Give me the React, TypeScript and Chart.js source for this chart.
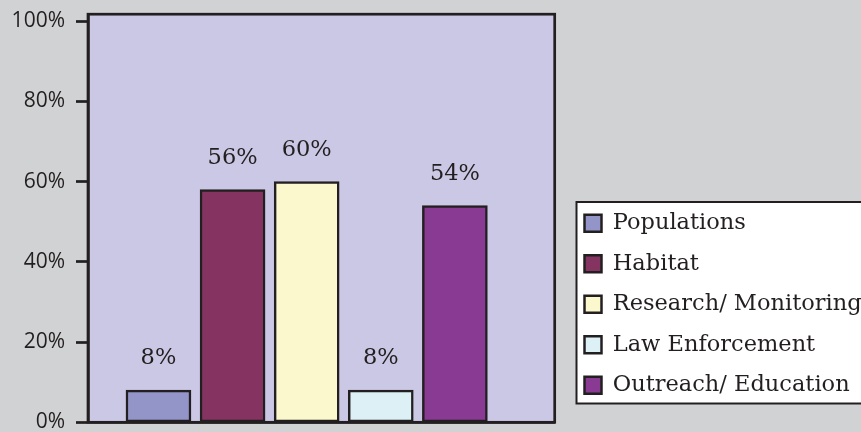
import React, { useEffect, useRef } from 'react';
import { Chart, registerables } from 'chart.js';

Chart.register(...registerables);

const CATEGORIES = ['Populations', 'Habitat', 'Research/ Monitoring', 'Law Enforcement', 'Outreach/ Education'];
const VALUES = [8, 58, 60, 8, 54];
const VALUE_LABELS = ['8%', '56%', '60%', '8%', '54%'];
const BAR_COLORS = ['#9395c8', '#853461', '#fbf8cd', '#dcf0f6', '#893a93'];
const Y_TICKS = [0, 20, 40, 60, 80, 100];

const INK = '#231f20';
const PAGE_BG = '#d1d2d4';
const PLOT_BG = '#cbc8e5';
const SERIF = '"DejaVu Serif", serif';
const SANS = '"Open Sans", sans-serif';

const CANVAS_W = 861;
const CANVAS_H = 440;
const LEGEND_PAD = 18;
const LEGEND_DX = 11.8;
const LEGEND_DY = 179.8;

export default function App() {
  const ref = useRef<HTMLCanvasElement>(null);

  useEffect(() => {
    const canvas = ref.current;
    if (!canvas) return;

    const backgroundPlugin = {
      id: 'bgPlugin',
      beforeDraw(chart: any) {
        const { ctx, chartArea: a } = chart;
        ctx.save();
        ctx.fillStyle = PAGE_BG;
        ctx.fillRect(0, 0, chart.width, chart.height);
        ctx.fillStyle = PLOT_BG;
        ctx.fillRect(a.left, a.top, a.right - a.left, a.bottom - a.top);
        const hb = chart.legend && chart.legend.legendHitBoxes;
        if (hb && hb.length) {
          const first = hb[0];
          const last = hb[hb.length - 1];
          const x = first.left - 8;
          const y = first.top - 10;
          const b = last.top + last.height + 7;
          const w = chart.width + 20 - x;
          ctx.fillStyle = '#ffffff';
          ctx.fillRect(x, y, w, b - y);
          ctx.lineWidth = 2;
          ctx.strokeStyle = INK;
          ctx.strokeRect(x, y, w, b - y);
        }
        ctx.restore();
      },
    };

    const legendPlacePlugin = {
      id: 'legendPlace',
      afterLayout(chart: any) {
        const lg = chart.legend;
        if (!lg) return;
        const a = chart.chartArea;
        const h = lg.height;
        lg.left = a.right + LEGEND_DX;
        lg.right = chart.width + 200;
        lg.width = lg.right - lg.left;
        lg.top = a.top + LEGEND_DY;
        lg.bottom = lg.top + h;
      },
    };

    const valueLabelPlugin = {
      id: 'valueLabels',
      afterDatasetsDraw(chart: any) {
        const { ctx } = chart;
        const meta = chart.getDatasetMeta(0);
        ctx.save();
        ctx.font = `22.5px ${SERIF}`;
        ctx.fillStyle = INK;
        ctx.textAlign = 'center';
        ctx.textBaseline = 'alphabetic';
        meta.data.forEach((el: any, i: number) => {
          ctx.fillText(VALUE_LABELS[i], el.x, el.y - 26);
        });
        ctx.restore();
      },
    };

    const frameBorderPlugin = {
      id: 'frameBorder',
      afterDraw(chart: any) {
        const { ctx, chartArea: a } = chart;
        ctx.save();
        ctx.lineWidth = 2.7;
        ctx.strokeStyle = INK;
        ctx.strokeRect(a.left, a.top, a.right - a.left, a.bottom - a.top);
        ctx.restore();
      },
    };

    const chart = new Chart(canvas, {
      type: 'bar',
      data: {
        datasets: [
          {
            data: VALUES.map((v, i) => ({ x: i, y: v })),
            backgroundColor: BAR_COLORS,
            borderColor: INK,
            borderWidth: 2.5,
            borderSkipped: false,
            barThickness: 65,
          } as any,
        ],
      },
      options: {
        responsive: false,
        animation: false,
        devicePixelRatio: 1,
        layout: { padding: { top: 14.2, right: 100, bottom: CANVAS_H - 422.3, left: 0 } },
        scales: {
          x: {
            type: 'linear',
            min: -0.951,
            max: 5.347,
            offset: false,
            ticks: { display: false },
            grid: { display: false, drawTicks: false },
            border: { display: true, color: INK, width: 2.7 },
            afterFit: (s: any) => {
              s.height = 0;
              s.paddingLeft = 0;
              s.paddingRight = 0;
            },
          },
          y: {
            min: 0,
            max: 101.7,
            afterBuildTicks: (s: any) => {
              s.ticks = Y_TICKS.map((v) => ({ value: v }));
            },
            ticks: {
              callback: (v: any) => v + '%',
              font: { family: SANS, size: 21 },
              color: INK,
              padding: 11,
            },
            grid: {
              drawOnChartArea: false,
              drawTicks: true,
              tickLength: 12,
              tickWidth: 2.7,
              tickColor: INK,
            },
            border: { display: true, color: INK, width: 2.7 },
            afterFit: (s: any) => {
              s.width = 88;
              s.paddingTop = 0;
              s.paddingBottom = 0;
            },
          },
        } as any,
        plugins: {
          legend: {
            position: 'right',
            align: 'start',
            fullSize: false,
            maxWidth: CANVAS_W - 100 - 554.7,
            labels: {
              boxWidth: 17,
              boxHeight: 17,
              padding: LEGEND_PAD,
              color: INK,
              font: { family: SERIF, size: 22.5 },
              generateLabels: () =>
                CATEGORIES.map((c, i) => ({
                  text: c,
                  fillStyle: BAR_COLORS[i],
                  strokeStyle: INK,
                  lineWidth: 2.5,
                  hidden: false,
                  index: i,
                  datasetIndex: 0,
                  fontColor: INK,
                })),
            },
          },
          tooltip: { enabled: false },
        } as any,
      },
      plugins: [backgroundPlugin, legendPlacePlugin, valueLabelPlugin, frameBorderPlugin],
    });

    return () => {
      chart.destroy();
    };
  }, []);

  return (
    <div style={{ position: 'absolute', left: 0, top: 0, width: CANVAS_W, height: CANVAS_H, background: PAGE_BG }}>
      <canvas ref={ref} width={CANVAS_W} height={CANVAS_H} style={{ display: 'block' }} />
    </div>
  );
}
